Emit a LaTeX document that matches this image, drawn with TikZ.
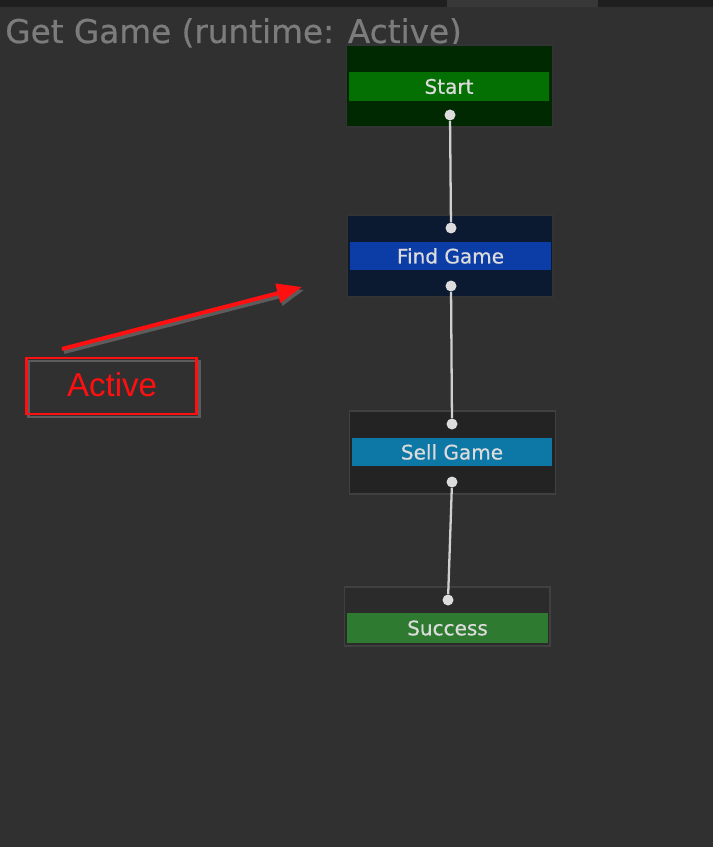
\documentclass[tikz,border=0pt]{standalone}
\usepackage{fontspec}
\setmainfont{DejaVu Sans}
\newfontfamily\uifont[FakeBold=0.6]{DejaVu Sans}
\newfontfamily\arialfont{Liberation Sans}
\usetikzlibrary{arrows.meta}
\definecolor{editorbg}{HTML}{303030}
\definecolor{tabbar}{HTML}{1F1F1F}
\definecolor{tabactive}{HTML}{383838}
\definecolor{titlegray}{HTML}{7C7C7C}
\definecolor{startdark}{HTML}{012901}
\definecolor{startbar}{HTML}{047004}
\definecolor{finddark}{HTML}{0B1A30}
\definecolor{findbar}{HTML}{0C3DA6}
\definecolor{selldark}{HTML}{232323}
\definecolor{sellbar}{HTML}{0D77A6}
\definecolor{succdark}{HTML}{2B2B2B}
\definecolor{succbar}{HTML}{2F7A31}
\definecolor{boxedge}{HTML}{404040}
\definecolor{labeltext}{HTML}{DCDCDC}
\definecolor{linkgray}{HTML}{CFCFCF}
\definecolor{markred}{HTML}{FF1010}
\definecolor{markshadow}{HTML}{5C5C5C}

\begin{document}
\begin{tikzpicture}[x=0.02cm,y=-0.02cm,
  questbox/.style={draw=black!80,line width=0.6pt,minimum width=4.12cm,inner sep=0pt},
  questbar/.style={minimum width=4.02cm,minimum height=0.57cm,inner sep=0pt,
    text=labeltext,font=\uifont\fontsize{11.4}{12}\selectfont},
  port/.style={circle,fill=labeltext,minimum size=0.22cm,inner sep=0pt},
  link/.style={linkgray,line width=1.3pt},
  markbox/.style={line width=1.7pt,minimum width=3.42cm,minimum height=1.12cm},
  markarrow/.style={line width=2.3pt,-{Triangle[length=0.5cm,width=0.38cm]}}]
  \useasboundingbox[fill=editorbg] (0,0) rectangle (713,847);
  \fill[tabbar] (0,0) rectangle (713,7);
  \fill[tabactive] (447,0) rectangle (598,7);
  \node[anchor=base west,text=titlegray,inner sep=0pt,font=\uifont\fontsize{18.6}{20}\selectfont] (title) at (5,43) {Get Game (runtime: Active)};

  \node[questbox,fill=startdark,minimum height=1.64cm] (start) at (449.5,86) {};
  \node[questbar,fill=startbar] (startbar) at (449,86.5) {Start};
  \node[port] (startout) at (450,115) {};

  \node[questbox,fill=finddark,minimum height=1.64cm] (find) at (450,256) {};
  \node[questbar,fill=findbar] (findbar) at (450.5,256) {Find Game};
  \node[port] (findin) at (451,228) {};
  \node[port] (findout) at (451,286) {};

  \node[questbox,draw=boxedge,fill=selldark,minimum height=1.66cm] (sell) at (452.5,452.5) {};
  \node[questbar,fill=sellbar] (sellbar) at (452,452) {Sell Game};
  \node[port] (sellin) at (452,424) {};
  \node[port] (sellout) at (452,482) {};

  \node[questbox,draw=boxedge,fill=succdark,minimum height=1.18cm] (success) at (447,616.5) {};
  \node[questbar,fill=succbar,minimum height=0.6cm] (successbar) at (447.5,628) {Success};
  \node[port] (successin) at (448,600) {};

  \draw[link] (startout) -- (findin);
  \draw[link] (findout) -- (sellin);
  \draw[link] (sellout) -- (successin);

  % annotation
  \node[markbox,draw=markshadow] at (114,389) {};
  \node[markbox,draw=markred] (activebox) at (111.5,386) {};
  \node[text=markred,font=\arialfont\fontsize{18.8}{20}\selectfont] (activelabel) at (112,385) {Active};
  \coordinate (arrowfrom) at (62,349);
  \coordinate (arrowto) at (302,287);
  \draw[markarrow,markshadow] ([shift={(2,3)}]arrowfrom) -- ([shift={(2,3)}]arrowto);
  \draw[markarrow,markred] (arrowfrom) -- (arrowto);
\end{tikzpicture}
\end{document}
